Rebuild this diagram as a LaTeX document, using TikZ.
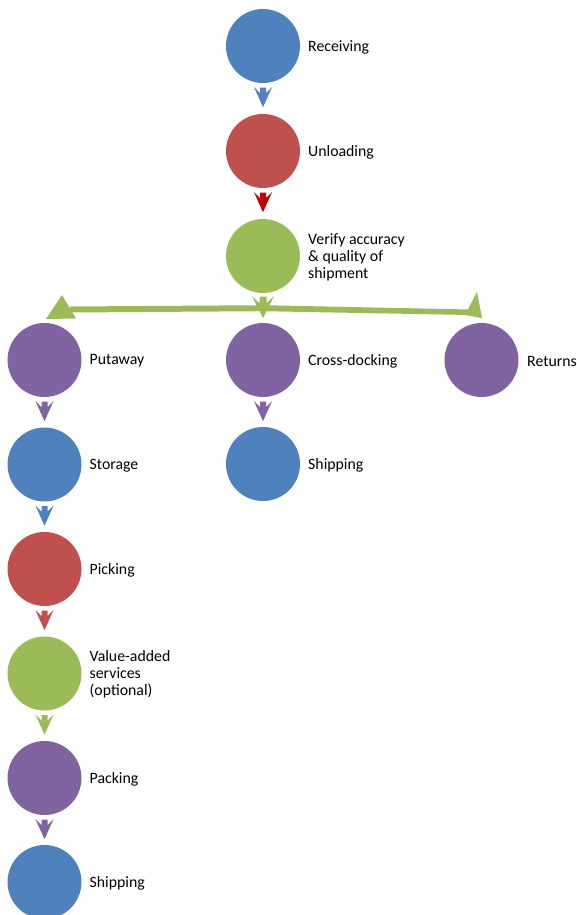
\documentclass[tikz,border=0pt]{standalone}
\usepackage{fontspec}
\setmainfont{Carlito}
\usetikzlibrary{calc}
\definecolor{cBlue}{HTML}{4F81BD}
\definecolor{cRed}{HTML}{C0504D}
\definecolor{cRedD}{HTML}{C00000}
\definecolor{cGreen}{HTML}{9BBB59}
\definecolor{cPurple}{HTML}{8064A2}
\tikzset{
  circ/.style={circle,minimum size=74pt,inner sep=0pt,draw=none},
  lab/.style={anchor=west,inner sep=0pt,align=left,yshift=-1pt,font=\fontsize{15.8}{17}\selectfont},
  pics/chev/.style={code={\fill[#1] (-9,0)--(-3,6)--(-3,0.5)--(3,0.5)--(3,6)--(9,0)--(0,20)--cycle;}},
  pics/chevbig/.style={code={\fill[#1] (-11,0)--(-3.5,7)--(-3.5,0.5)--(3.5,0.5)--(3.5,7)--(11,0)--(0,22)--cycle;}}
}
\begin{document}
\begin{tikzpicture}[x=1pt,y=-1pt]
\useasboundingbox (0,0) rectangle (577,915);
% center column
\node[circ,fill=cBlue] (rec) at (263,46) {};
\node[lab] (recL) at (308,46) {Receiving};
\node[circ,fill=cRed] (unl) at (263,151) {};
\node[lab] (unlL) at (308,151) {Unloading};
\node[circ,fill=cGreen] (ver) at (263,256) {};
\node[lab] (verL) at (308,256) {Verify accuracy\\\& quality of\\shipment};
\node[circ,fill=cPurple] (cro) at (263,360) {};
\node[lab] (croL) at (308,360) {Cross-docking};
\node[circ,fill=cBlue] (shc) at (263,464) {};
\node[lab] (shcL) at (308,464) {Shipping};
% right
\node[circ,fill=cPurple] (ret) at (481.5,360) {};
\node[lab] (retL) at (527,360) {Returns};
% left column
\node[circ,fill=cPurple] (put) at (44.5,360) {};
\node[lab] (putL) at (89.5,360) {Putaway};
\node[circ,fill=cBlue] (sto) at (44.5,464.5) {};
\node[lab] (stoL) at (89.5,464.5) {Storage};
\node[circ,fill=cRed] (pic) at (44.5,569) {};
\node[lab] (picL) at (89.5,569) {Picking};
\node[circ,fill=cGreen] (val) at (44.5,673.5) {};
\node[lab] (valL) at (89.5,673.5) {Value-added\\services\\(optional)};
\node[circ,fill=cPurple] (pac) at (44.5,778) {};
\node[lab] (pacL) at (89.5,778) {Packing};
\node[circ,fill=cBlue] (shl) at (44.5,882) {};
\node[lab] (shlL) at (89.5,882) {Shipping};
% chevron connectors
\pic at ($(rec.south)+(0,4)$) {chev=cBlue};
\pic at ($(unl.south)+(0,4)$) {chev=cRedD};
\pic at ($(cro.south)+(0,4)$) {chev=cPurple};
\pic at ($(put.south)+(0,4)$) {chev=cPurple};
\pic at ($(sto.south)+(0,4)$) {chev=cBlue};
\pic at ($(pic.south)+(0,4)$) {chev=cRed};
\pic at ($(val.south)+(0,4)$) {chev=cGreen};
\pic at ($(pac.south)+(0,4)$) {chev=cPurple};
% green branching bar
\coordinate (barC) at ($(ver.south)+(0,12)$);
\fill[cGreen] (70,306.5) -- (barC) -- (470,309.5) -- (470,315) -- ($(barC)+(0,6)$) -- (70,312.5) -- cycle;
\fill[cGreen] (46,319) -- (62,295) -- (76,318.5) -- cycle;
\fill[cGreen] (477,292) -- (482,318) -- (465,315) -- cycle;
\pic at ($(ver.south)+(0,3)$) {chevbig=cGreen};
\end{tikzpicture}
\end{document}
